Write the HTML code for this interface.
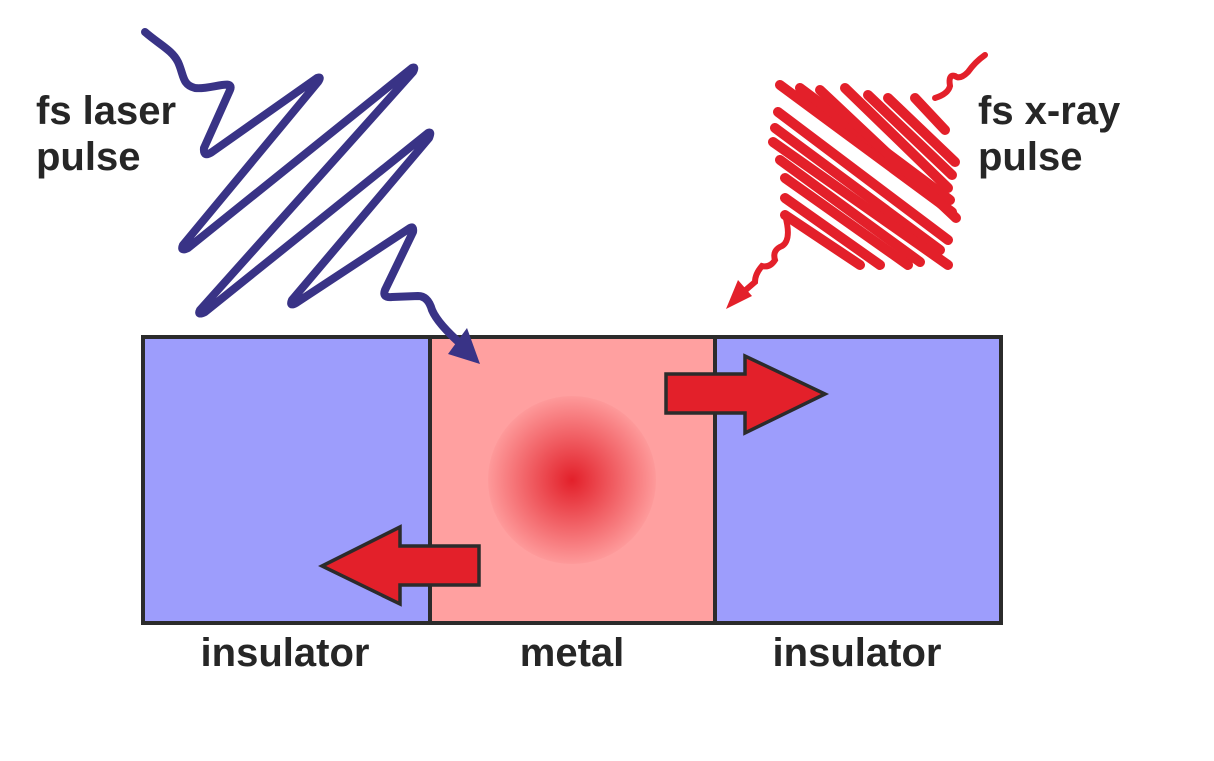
<!DOCTYPE html>
<html><head><meta charset="utf-8"><style>
html,body{margin:0;padding:0;background:#fff;width:1214px;height:761px;overflow:hidden}
</style></head><body>
<svg width="1214" height="761" viewBox="0 0 1214 761" xmlns="http://www.w3.org/2000/svg">
<defs>
<radialGradient id="g" cx="0.5" cy="0.5" r="0.5">
<stop offset="0" stop-color="#e3202a"/>
<stop offset="1" stop-color="#e3202a" stop-opacity="0.05"/>
</radialGradient>
</defs>
<rect x="143" y="337" width="287" height="286" fill="#9d9dfc"/>
<rect x="430" y="337" width="285" height="286" fill="#ffa0a0"/>
<rect x="715" y="337" width="286" height="286" fill="#9d9dfc"/>
<circle cx="572" cy="480" r="84" fill="url(#g)"/>
<rect x="143" y="337" width="858" height="286" fill="none" stroke="#2b2b2b" stroke-width="4"/>
<line x1="430" y1="337" x2="430" y2="623" stroke="#2b2b2b" stroke-width="4"/>
<line x1="715" y1="337" x2="715" y2="623" stroke="#2b2b2b" stroke-width="4"/>
<polygon points="666,374 745,374 745,356 825,394 745,433 745,413 666,413" fill="#e3202a" stroke="#2b2b2b" stroke-width="3.5" stroke-linejoin="miter"/>
<polygon points="479,546 400,546 400,527 322,566 400,604 400,585 479,585" fill="#e3202a" stroke="#2b2b2b" stroke-width="3.5"/>
<!-- blue wave -->
<path d="M145,32 C160,45 172,50 178,62 C184,75 182,85 195,88 C210,90 235,78 230,90 L204,148 Q203,158 212,152 L317,78 Q322,76 318,82 L183,245 Q180,252 188,248 L412,68 Q416,66 413,72 L200,310 Q197,316 205,312 L428,133 Q432,131 429,138 L292,300 Q289,307 296,303 L410,228 Q414,226 413,232 L385,290 Q382,298 392,297 L418,296 Q428,296 432,310 Q438,324 462,345" fill="none" stroke="#393386" stroke-width="8" stroke-linejoin="round" stroke-linecap="round"/>
<polygon points="448,354 480,364 467,328" fill="#393386"/>
<!-- red wave -->
<g stroke="#e3202a" stroke-width="10" stroke-linecap="round" fill="none">
<path d="M985,55 Q975,62 968,72 Q960,80 955,76 Q948,74 950,86 Q948,94 935,98" stroke-width="6"/>
<line x1="780" y1="85" x2="952" y2="212"/>
<line x1="800" y1="88" x2="950" y2="200"/>
<line x1="820" y1="90" x2="956" y2="218"/>
<line x1="845" y1="88" x2="948" y2="188"/>
<line x1="868" y1="95" x2="952" y2="175"/>
<line x1="888" y1="98" x2="955" y2="162"/>
<line x1="915" y1="98" x2="945" y2="130"/>
<line x1="778" y1="112" x2="948" y2="240"/>
<line x1="775" y1="128" x2="940" y2="250"/>
<line x1="773" y1="142" x2="948" y2="265"/>
<line x1="780" y1="160" x2="920" y2="262"/>
<line x1="785" y1="178" x2="908" y2="265"/>
<line x1="785" y1="198" x2="880" y2="265"/>
<line x1="785" y1="215" x2="860" y2="265"/>
<path d="M785,215 Q792,240 782,246 Q772,250 775,260 Q770,268 762,266 Q755,274 755,282 Q748,288 740,295" stroke-width="6"/>
</g>
<polygon points="726,309 752,296 738,280" fill="#e3202a"/>
<g font-family="Liberation Sans, sans-serif" font-weight="bold" font-size="40" fill="#262626">
<text x="36" y="124">fs laser</text>
<text x="36" y="170">pulse</text>
<text x="978" y="124">fs x-ray</text>
<text x="978" y="170">pulse</text>
<text x="285" y="666" text-anchor="middle">insulator</text>
<text x="572" y="666" text-anchor="middle">metal</text>
<text x="857" y="666" text-anchor="middle">insulator</text>
</g>
</svg>
</body></html>
